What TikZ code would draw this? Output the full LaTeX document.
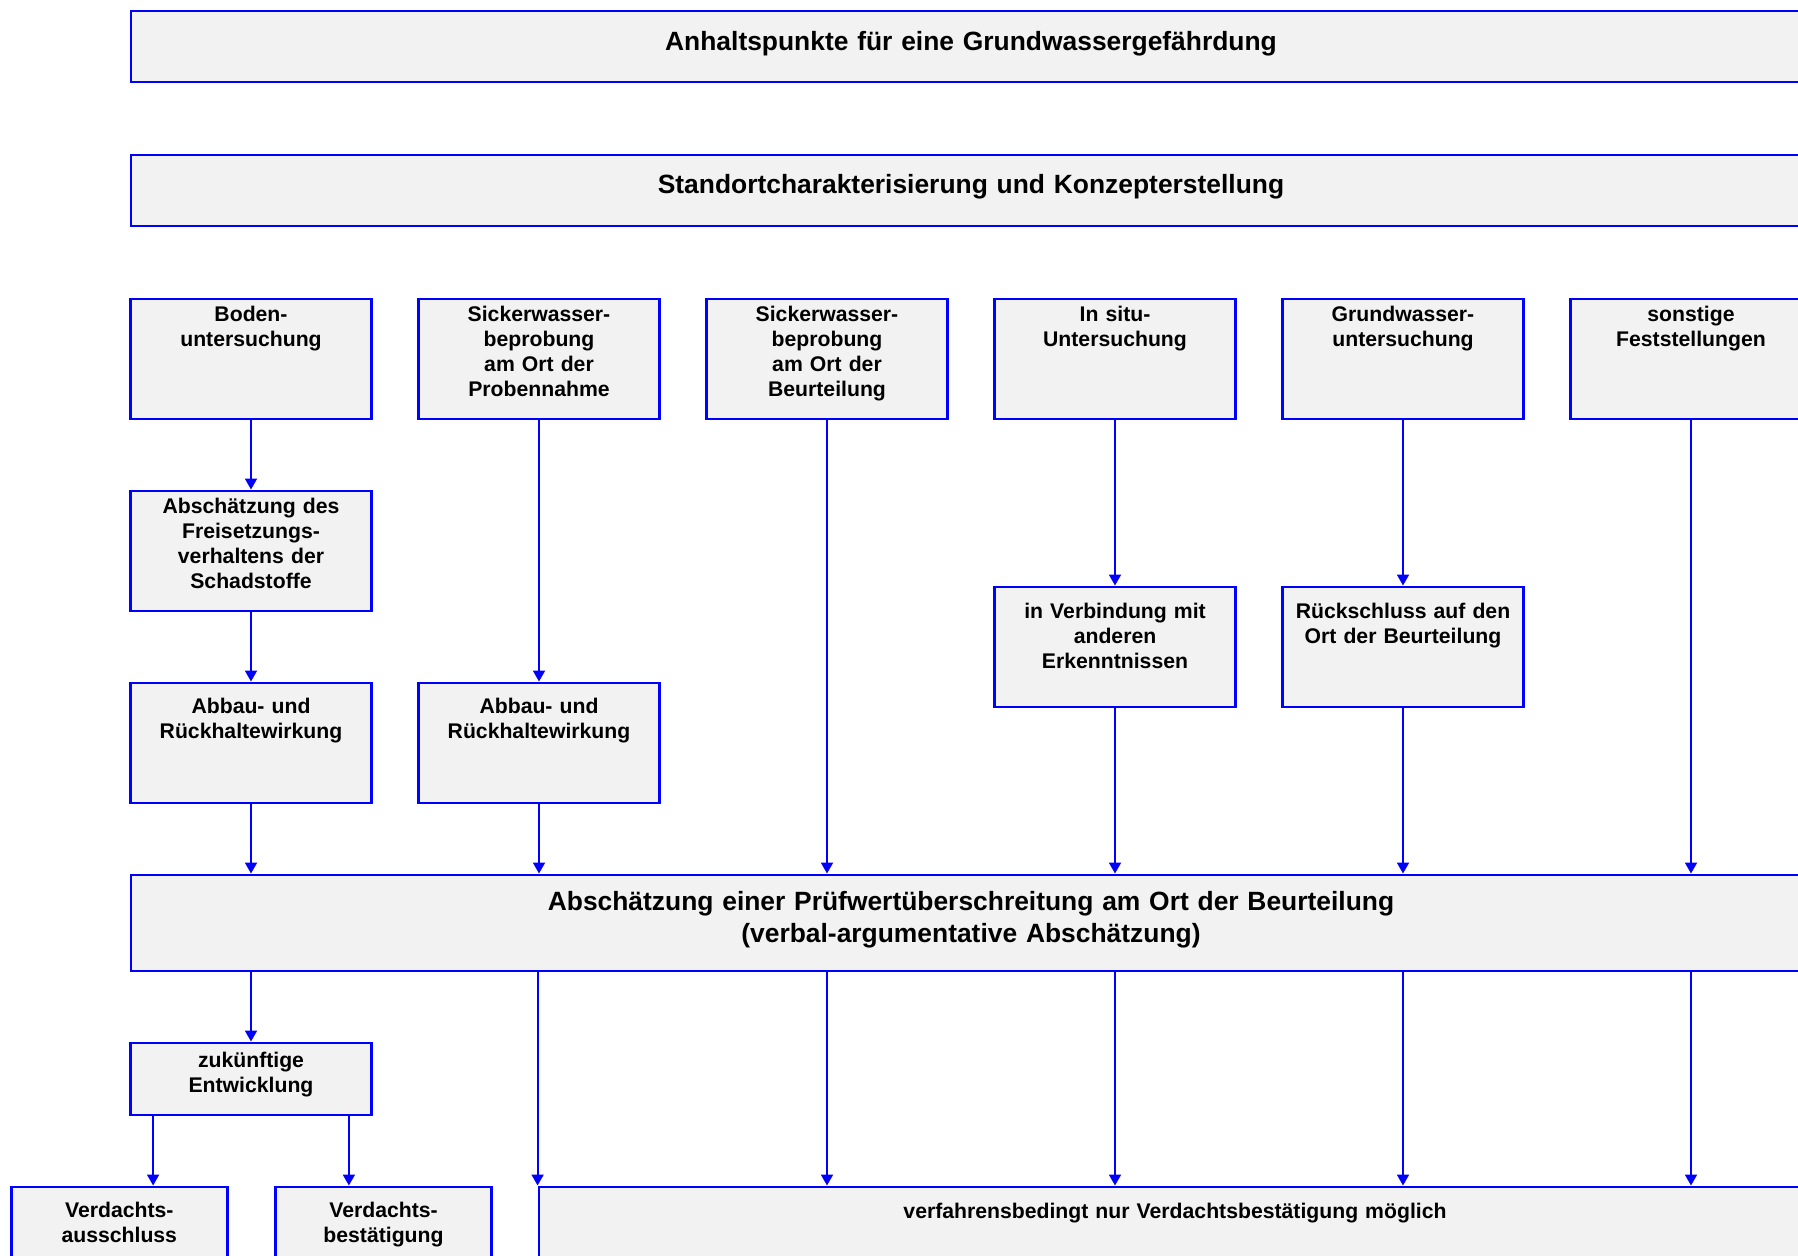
\documentclass[tikz,border=0pt]{standalone}
\usepackage{fontspec}
\setmainfont{Liberation Sans}
\usetikzlibrary{arrows.meta}
\usetikzlibrary{positioning}

\definecolor{blau}{RGB}{0,0,255}
\definecolor{grau}{RGB}{242,242,242}
\newcommand{\kleinschrift}{\fontsize{10.6pt}{12.4pt}\selectfont\bfseries}
\newcommand{\grossschrift}{\fontsize{13.2pt}{15.9pt}\selectfont\bfseries}

\tikzset{
  kasten/.style={draw=blau, fill=grau, line width=1.4pt, inner sep=0pt, align=center, anchor=north, font=\kleinschrift},
  spalte/.style={kasten, text width=120.5pt},
  breit/.style={kasten, text width=840pt, font=\grossschrift},
  pfeil/.style={draw=blau, line width=1pt, -{Triangle[length=5.5pt,width=6pt]}}
}

\begin{document}
\begin{tikzpicture}[x=0.5pt,y=-0.5pt]
\useasboundingbox (0,0) rectangle (1798,1255);

\node[breit,text height=20pt,text depth=15.5pt] (anhalt) at (971,9.5) {Anhaltspunkte für eine Grundwassergefährdung};
\node[breit,text height=19.5pt,text depth=16pt] (standort) at (971,153.5) {Standortcharakterisierung und Konzepterstellung};

\node[spalte,text height=11.5pt,text depth=48.5pt] (boden) at (251,297.5) {Boden-\\untersuchung};
\node[spalte,text height=11.5pt,text depth=48.5pt] (sickerP) at (539,297.5) {Sickerwasser-\\beprobung\\am Ort der\\Probennahme};
\node[spalte,text height=11.5pt,text depth=48.5pt] (sickerB) at (827,297.5) {Sickerwasser-\\beprobung\\am Ort der\\Beurteilung};
\node[spalte,text height=11.5pt,text depth=48.5pt] (insitu) at (1115,297.5) {In situ-\\Untersuchung};
\node[spalte,text height=11.5pt,text depth=48.5pt] (grundw) at (1403,297.5) {Grundwasser-\\untersuchung};
\node[spalte,text height=11.5pt,text depth=48.5pt] (sonst) at (1691,297.5) {sonstige\\Feststellungen};

\node[spalte,text height=11.5pt,text depth=48.5pt] (freis) at (251,489.5) {Abschätzung des\\Freisetzungs-\\verhaltens der\\Schadstoffe};
\node[spalte,text height=16pt,text depth=44pt] (verb) at (1115,585.5) {in Verbindung mit\\anderen\\Erkenntnissen};
\node[spalte,text height=16pt,text depth=44pt] (rueck) at (1403,585.5) {Rückschluss auf den\\Ort der Beurteilung};
\node[spalte,text height=15.5pt,text depth=44.5pt] (abbau1) at (251,681.5) {Abbau- und\\Rückhaltewirkung};
\node[spalte,text height=15.5pt,text depth=44.5pt] (abbau2) at (539,681.5) {Abbau- und\\Rückhaltewirkung};

\node[breit,text height=18pt,text depth=30pt] (pruef) at (971,873.5) {Abschätzung einer Prüfwertüberschreitung am Ort der Beurteilung\\(verbal-argumentative Abschätzung)};

\node[spalte,text height=12.5pt,text depth=23.5pt] (zukunft) at (251,1041.5) {zukünftige\\Entwicklung};
\node[kasten,text width=108pt,text height=15.5pt,text depth=44.5pt] (ausschl) at (119.3,1185.5) {Verdachts-\\ausschluss};
\node[kasten,text width=108pt,text height=15.5pt,text depth=44.5pt] (bestaet) at (383.5,1185.5) {Verdachts-\\bestätigung};
\node[kasten,text width=636pt,text height=16pt,text depth=44pt] (verfahren) at (1175,1185.5) {verfahrensbedingt nur Verdachtsbestätigung möglich};

\draw[pfeil] (boden) -- (freis);
\draw[pfeil] (freis) -- (abbau1);
\draw[pfeil] (sickerP) -- (abbau2);
\draw[pfeil] (insitu) -- (verb);
\draw[pfeil] (grundw) -- (rueck);

\draw[pfeil] (abbau1) -- (abbau1 |- pruef.north);
\draw[pfeil] (abbau2) -- (abbau2 |- pruef.north);
\draw[pfeil] (sickerB) -- (sickerB |- pruef.north);
\draw[pfeil] (verb) -- (verb |- pruef.north);
\draw[pfeil] (rueck) -- (rueck |- pruef.north);
\draw[pfeil] (sonst) -- (sonst |- pruef.north);

\draw[pfeil] (pruef.south -| zukunft) -- (zukunft);
\draw[pfeil] (pruef.south -| verfahren.west) -- (verfahren.north west);
\draw[pfeil] (pruef.south -| sickerB) -- (verfahren.north -| sickerB);
\draw[pfeil] (pruef.south -| insitu) -- (verfahren.north -| insitu);
\draw[pfeil] (pruef.south -| grundw) -- (verfahren.north -| grundw);
\draw[pfeil] (pruef.south -| sonst) -- (verfahren.north -| sonst);

\coordinate (zlinks) at ([xshift=12pt]zukunft.south west);
\coordinate (zrechts) at ([xshift=-12pt]zukunft.south east);
\draw[pfeil] (zlinks) -- (zlinks |- ausschl.north);
\draw[pfeil] (zrechts) -- (zrechts |- bestaet.north);

\end{tikzpicture}
\end{document}
